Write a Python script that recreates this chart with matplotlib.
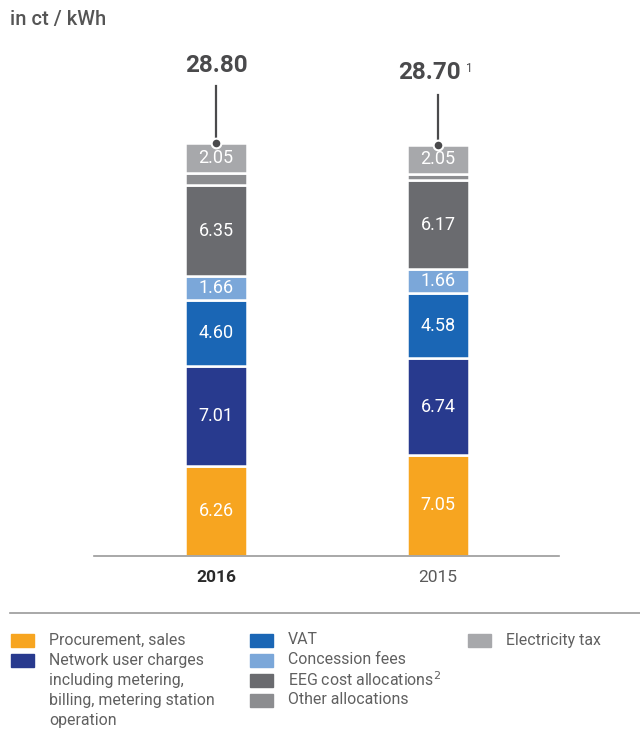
import matplotlib.pyplot as plt
from matplotlib.patches import Rectangle
from matplotlib.lines import Line2D

plt.rcParams['font.family'] = ['Roboto', 'DejaVu Sans']

# data
years = ["2016", "2015"]
totals = [28.80, 28.70]
total_labels = ["28.80", "28.70"]
total_notes = ["", "1"]
components = ["Procurement, sales",
              "Network user charges\nincluding metering,\nbilling, metering station\noperation",
              "VAT", "Concession fees", "EEG cost allocations", "Other allocations",
              "Electricity tax"]
values_2016 = [6.26, 7.01, 4.60, 1.66, 6.35, 0.87, 2.05]
values_2015 = [7.05, 6.74, 4.58, 1.66, 6.17, 0.45, 2.05]
show_label = [True, True, True, True, True, False, True]
colors = ["#F7A520", "#283A8E", "#1A66B5", "#7BA7D9", "#6A6B6F", "#8C8D90", "#A7A8AB"]

W, H = 640, 729
fig = plt.figure(figsize=(6.4, 7.29), dpi=100)
ax = fig.add_axes([94 / W, 173 / H, 465 / W, 516 / H])

x = [0, 1]
series = [values_2016, values_2015]
for i, vals in enumerate(series):
    bottom = 0
    for j, v in enumerate(vals):
        ax.bar(x[i], v, bottom=bottom, width=0.28, color=colors[j],
               edgecolor="white", linewidth=1.8)
        if show_label[j]:
            ax.text(x[i], bottom + v / 2, f"{v:.2f}", ha="center", va="center",
                    color="white", fontsize=13)
        bottom += v

# leader lines and totals
line_len = [4.0, 3.45]
label_off = [5.45, 5.05]
for i, t in enumerate(totals):
    ax.plot([x[i], x[i]], [t, t + line_len[i]], color="#4a4a4c", lw=1.6, zorder=4)
    ax.plot(x[i], t, 'o', color="#4a4a4c", ms=7, mec="white", mew=1.5, zorder=5)
    shift = -6 if total_notes[i] else 0
    ax.annotate(total_labels[i], (x[i], t + label_off[i]), xytext=(shift, 0),
                textcoords="offset points", ha="center", va="center",
                fontsize=17.5, fontweight="bold", color="#4a4a4c")
    if total_notes[i]:
        ax.annotate(total_notes[i], (x[i], t + label_off[i]), xytext=(22.5, 3),
                    textcoords="offset points", fontsize=8.5, color="#4a4a4c",
                    ha="center", va="center")

ax.set_xlim(-0.55, 1.545)
ax.set_ylim(0, 36)
for s in ["top", "right", "left"]:
    ax.spines[s].set_visible(False)
ax.spines["bottom"].set_color("#9a9a9a")
ax.spines["bottom"].set_linewidth(1.2)
ax.set_yticks([])
ax.set_xticks(x)
ax.set_xticklabels(years, fontsize=12.5)
ax.tick_params(axis="x", length=0, pad=10)
tl = ax.get_xticklabels()
tl[0].set_fontweight("bold")
tl[0].set_color("#2a2a2a")
tl[1].set_color("#5a5a5a")

fig.text(10 / W, 1 - 20 / H, "in ct / kWh", fontsize=14.5, color="#555555",
         va="center", ha="left", fontweight="medium")

# separator
fig.add_artist(Line2D([10 / W, 1], [1 - 613 / H, 1 - 613 / H], color="#9a9a9a", lw=1.2))

# legend
legend_pos = [(11, 640), (11, 660), (250, 640), (250, 660), (250, 680), (250, 700), (468, 640)]
legend_labels = list(components)
legend_labels[4] = "EEG cost allocations$^{2}$"
for (lx, ly), lab, c in zip(legend_pos, legend_labels, colors):
    fig.add_artist(Rectangle((lx / W, 1 - (ly + 6.5) / H), 23 / W, 13 / H,
                             color=c, transform=fig.transFigure))
    for k, line in enumerate(lab.split("\n")):
        fig.text((lx + 38) / W, 1 - (ly + 20 * k) / H, line, fontsize=11.4,
                 color="#606060", va="center", ha="left")

fig.savefig("out.png", dpi=100)
